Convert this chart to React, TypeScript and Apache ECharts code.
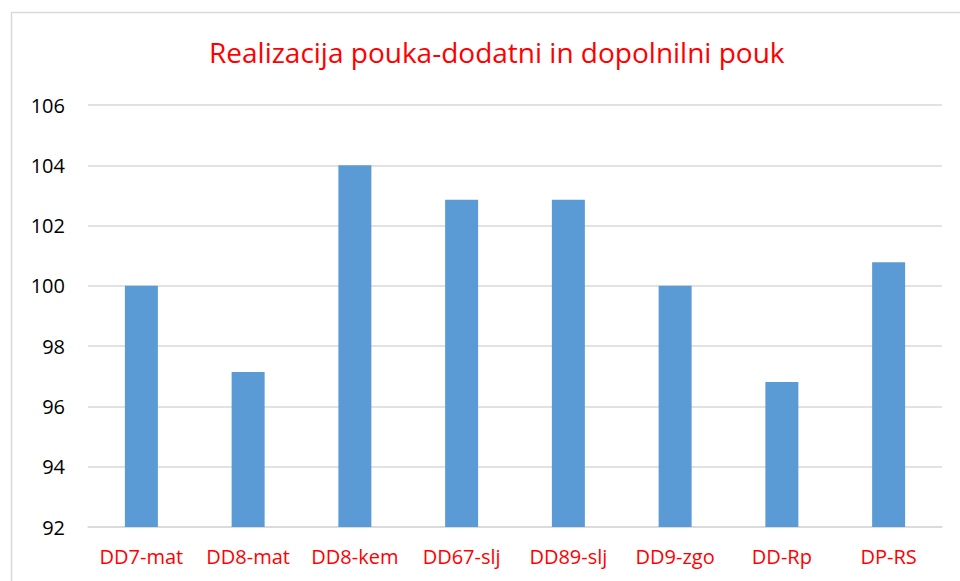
import React, { useEffect, useRef } from "react";
import * as echarts from "echarts";

const categories = ["DD7-mat", "DD8-mat", "DD8-kem", "DD67-slj", "DD89-slj", "DD9-zgo", "DD-Rp", "DP-RS"];
const values = [100, 97.14, 104, 102.86, 102.86, 100, 96.81, 100.78];
const yMin = 92;
const yMax = 106;
const yStep = 2;
const title = "Realizacija pouka-dodatni in dopolnilni pouk";

export default function App() {
  const ref = useRef<HTMLDivElement>(null);
  useEffect(() => {
    if (!ref.current) return;
    const chart = echarts.init(ref.current, null, { renderer: "svg" });
    chart.setOption({
      animation: false,
      backgroundColor: "#ffffff",
      title: {
        text: title,
        left: 204,
        top: 33,
        textStyle: { color: "#ff0000", fontSize: 28, fontWeight: "normal", fontFamily: "Open Sans" },
      },
      graphic: [
        {
          type: "rect",
          shape: { x: 11.5, y: 12.5, width: 1000, height: 1000 },
          style: { fill: "none", stroke: "#d9d9d9", lineWidth: 1.5 },
          silent: true,
        },
      ],
      grid: { left: 88, right: 18, top: 105, bottom: 54, containLabel: false },
      xAxis: {
        type: "category",
        data: categories,
        axisLine: { show: true, lineStyle: { color: "#d9d9d9", width: 1.5 } },
        axisTick: { show: false },
        axisLabel: { color: "#ff0000", fontSize: 20, fontFamily: "Open Sans", margin: 19, interval: 0, hideOverlap: false },
      },
      yAxis: {
        type: "value",
        min: yMin,
        max: yMax,
        interval: yStep,
        axisLine: { show: false },
        axisTick: { show: false },
        splitLine: { lineStyle: { color: "#d9d9d9", width: 1.5 } },
        axisLabel: { color: "#000000", fontSize: 20, fontFamily: "Open Sans", margin: 23 },
      },
      series: [
        {
          type: "bar",
          data: values,
          barWidth: 33,
          itemStyle: { color: "#5b9bd5" },
        },
      ],
    });
    return () => chart.dispose();
  }, []);
  return <div ref={ref} style={{ width: 960, height: 581, position: "absolute", left: 0, top: 0 }} />;
}
